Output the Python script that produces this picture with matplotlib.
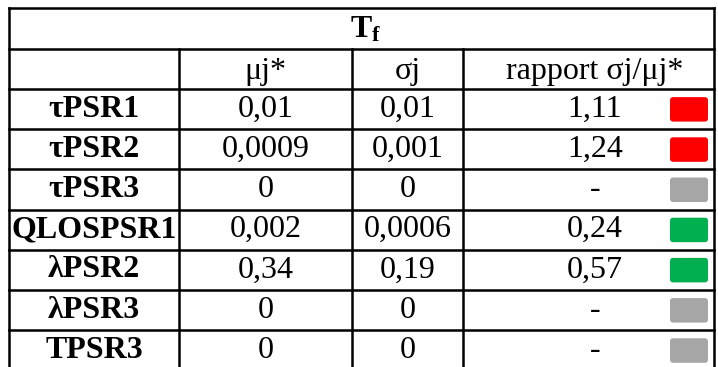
import matplotlib.pyplot as plt
from matplotlib.patches import FancyBboxPatch

plt.rcParams['font.family'] = ['Liberation Serif', 'DejaVu Serif']
plt.rcParams['mathtext.fontset'] = 'custom'
plt.rcParams['mathtext.rm'] = 'Liberation Serif'
plt.rcParams['mathtext.bf'] = 'Liberation Serif:bold'

# Table data
title = r'$\mathbf{T_f}$'
col_headers = ['μj*', 'σj', 'rapport σj/μj*']
params = ['τPSR1', 'τPSR2', 'τPSR3', 'QLOSPSR1', 'λPSR2', 'λPSR3', 'TPSR3']
mu = ['0,01', '0,0009', '0', '0,002', '0,34', '0', '0']
sigma = ['0,01', '0,001', '0', '0,0006', '0,19', '0', '0']
ratio = ['1,11', '1,24', '-', '0,24', '0,57', '-', '-']


def ratio_color(r):
    if r == '-':
        return '#A6A6A6'
    if float(r.replace(',', '.')) > 1:
        return '#FF0000'
    return '#00B050'


fig = plt.figure(figsize=(7.18, 3.67), dpi=100)
ax = fig.add_axes([0, 0, 1, 1])
ax.set_xlim(0, 718)
ax.set_ylim(367, 0)
ax.axis('off')

# Layout (pixels)
x_edges = [9, 179, 352, 463, 714]
y_top = 8
y_head = 49
row_h = 40.2
n = len(params)
y_rows = [89 + i * row_h for i in range(n + 1)]
y_bottom = y_rows[-1]

lw = 1.8
# horizontal lines
for y in [y_top, y_head] + y_rows:
    ax.plot([x_edges[0], x_edges[-1]], [y, y], color='black', lw=lw, solid_capstyle='projecting')
# outer verticals
for x in [x_edges[0], x_edges[-1]]:
    ax.plot([x, x], [y_top, y_bottom], color='black', lw=lw)
# inner verticals
for x in x_edges[1:-1]:
    ax.plot([x, x], [y_head, y_bottom], color='black', lw=lw)

fs = 23
ax.text((x_edges[0] + x_edges[-1]) / 2 + 4, (y_top + y_head) / 2 + 1, title,
        ha='center', va='center', fontsize=fs)

centers = [(x_edges[i] + x_edges[i + 1]) / 2 for i in range(4)]
centers[3] = 595
for c, h in zip(centers[1:], col_headers):
    ax.text(c, (y_head + y_rows[0]) / 2 + 2, h, ha='center', va='center', fontsize=fs)

for i in range(n):
    yc = (y_rows[i] + y_rows[i + 1]) / 2
    ax.text(centers[0], yc, params[i], ha='center', va='center', fontsize=fs, fontweight='bold')
    ax.text(centers[1], yc, mu[i], ha='center', va='center', fontsize=fs)
    ax.text(centers[2], yc, sigma[i], ha='center', va='center', fontsize=fs)
    ax.text(centers[3], yc, ratio[i], ha='center', va='center', fontsize=fs)
    box = FancyBboxPatch((670, yc - 12), 38, 24.5, boxstyle='round,pad=0,rounding_size=3',
                         facecolor=ratio_color(ratio[i]), edgecolor='none')
    ax.add_patch(box)

fig.savefig('out.png', dpi=100)
